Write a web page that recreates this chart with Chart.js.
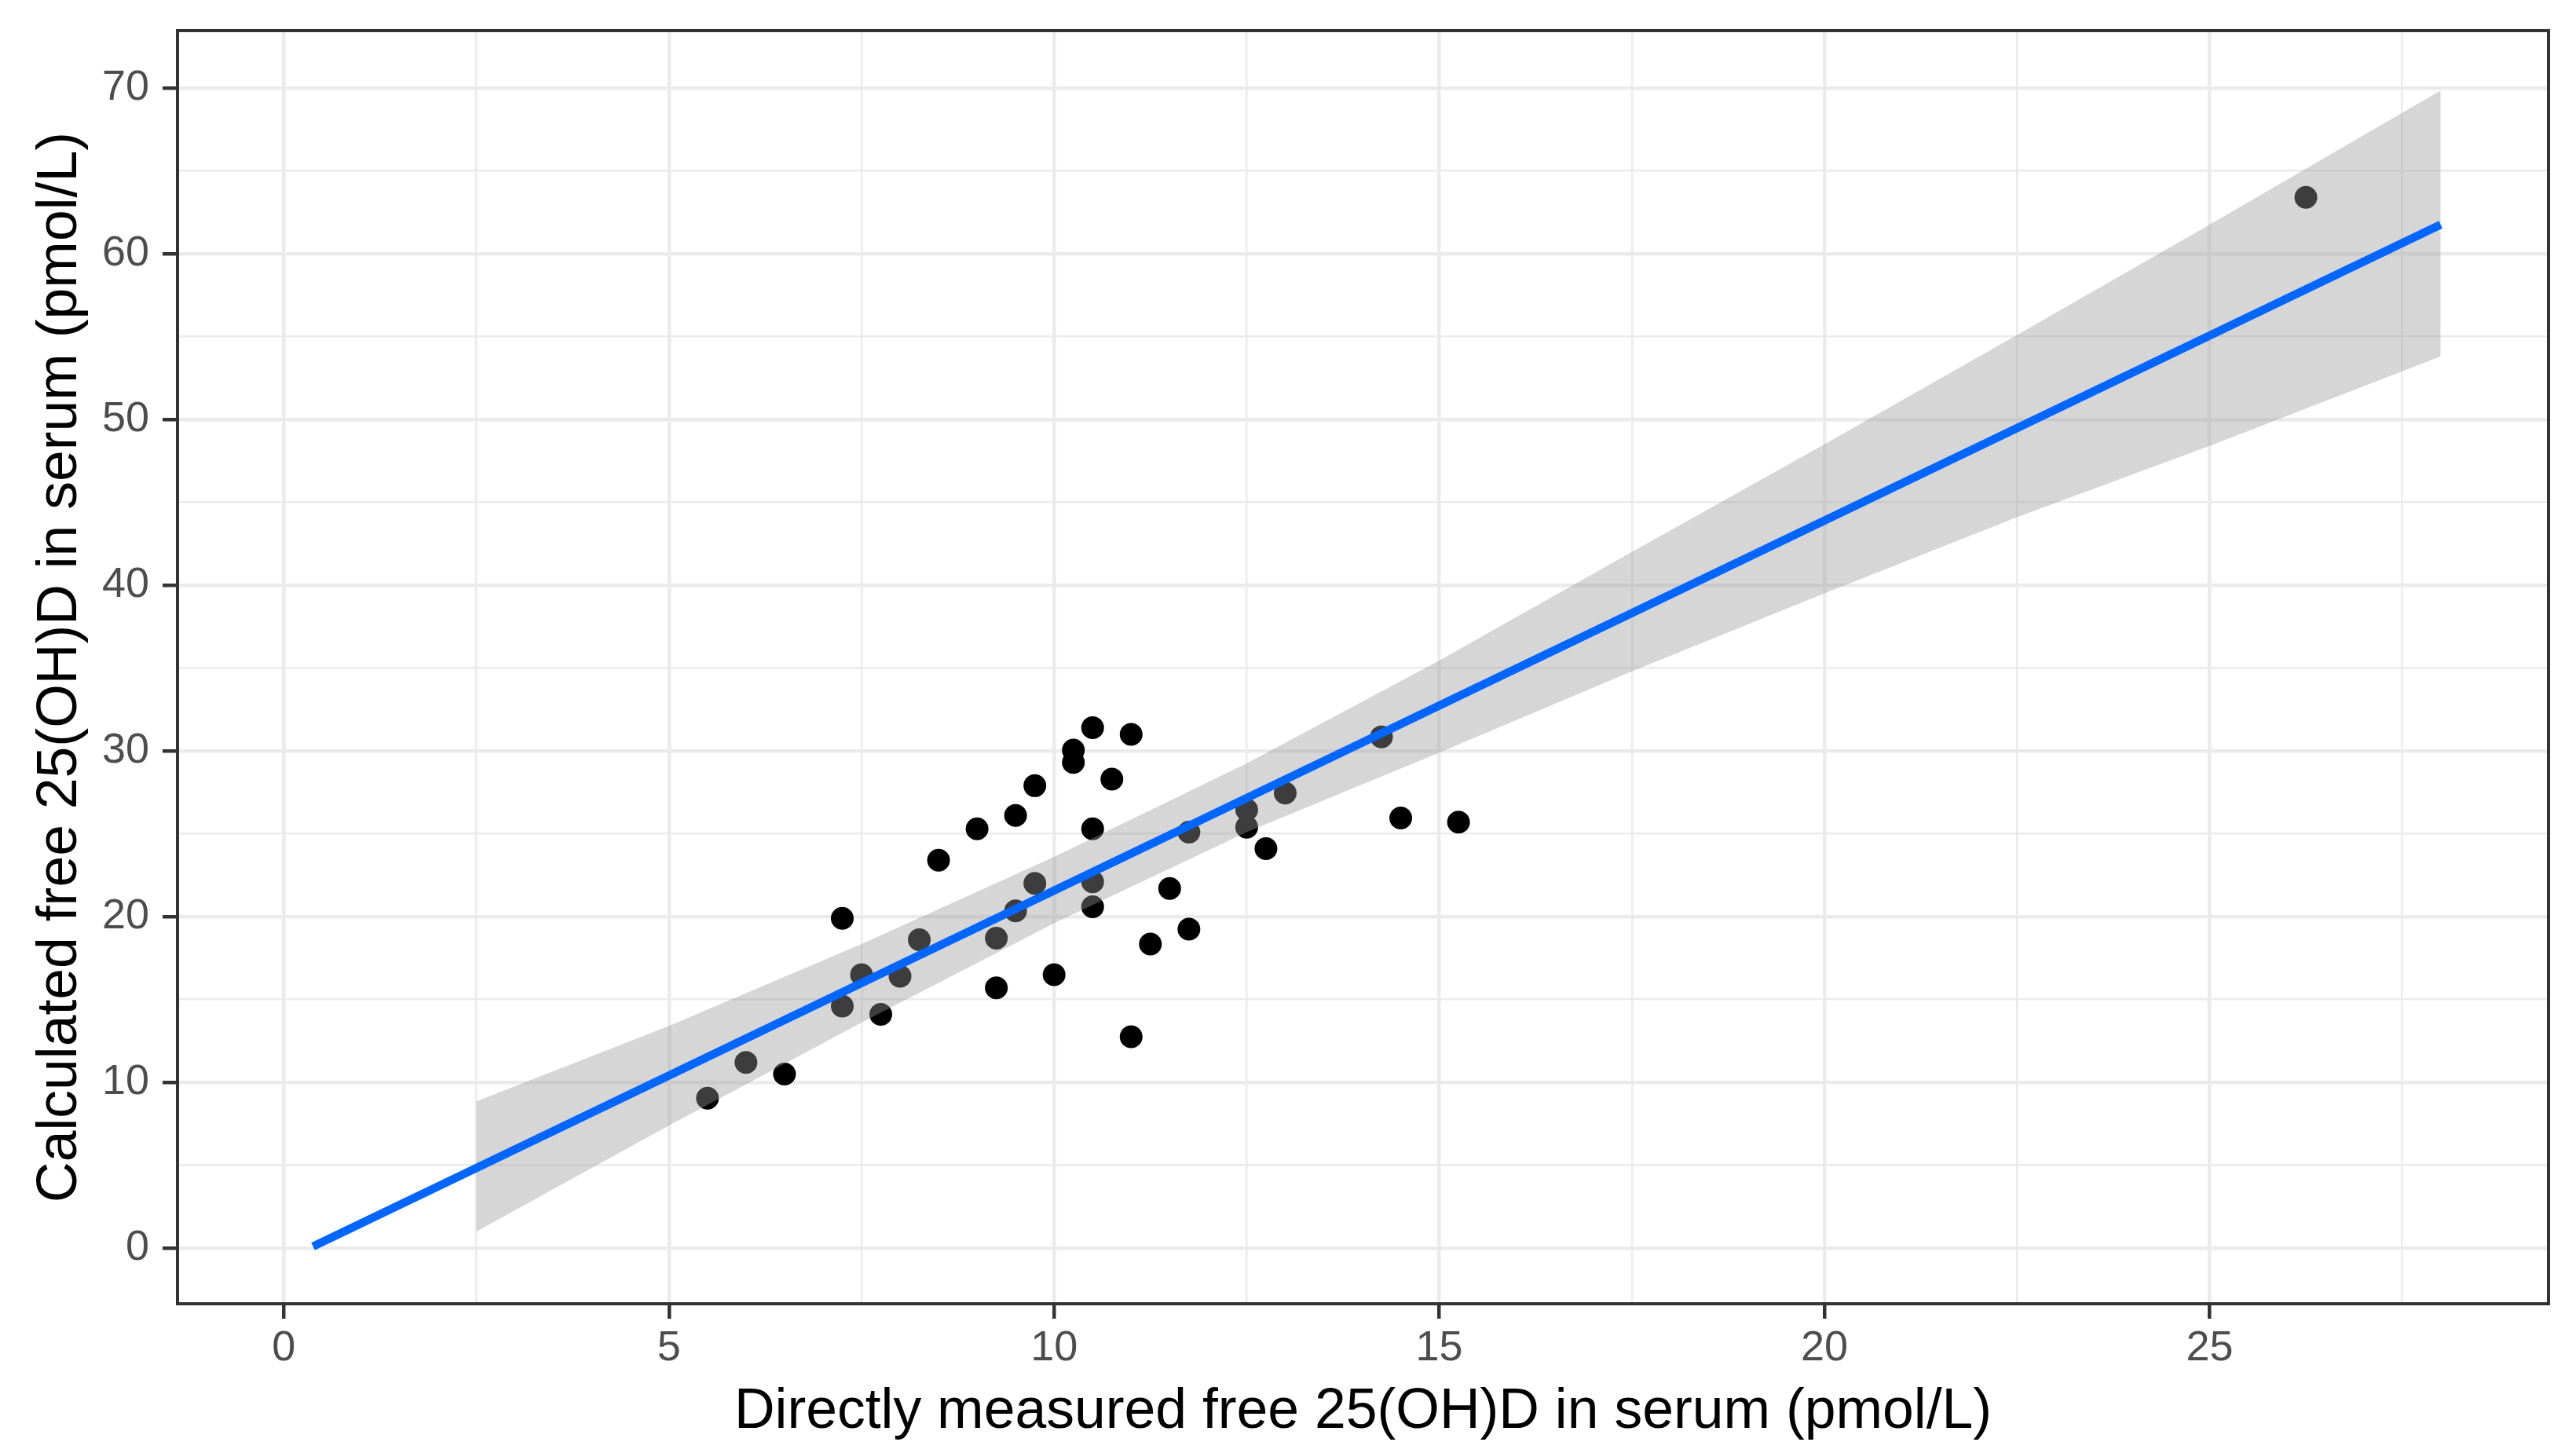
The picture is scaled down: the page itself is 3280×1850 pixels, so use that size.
<!DOCTYPE html>
<html>
<head>
<meta charset="utf-8">
<script src="https://cdn.jsdelivr.net/npm/chart.js@4.4.1/dist/chart.umd.min.js"></script>
<style>
  html, body { margin: 0; padding: 0; background: #ffffff; }
  #wrap { width: 3280px; height: 1850px; }
</style>
</head>
<body>
<div id="wrap"><canvas id="myChart"></canvas></div>
<script>
// Datos
const medidoX = [5.5, 6, 6.5, 7.25, 7.25, 7.5, 7.75, 8, 8.25, 8.5, 9, 9.25, 9.25, 9.5, 9.5, 9.75, 9.75, 10, 10.25, 10.25,
  10.5, 10.5, 10.5, 10.5, 10.75, 11, 11, 11.25, 11.5, 11.75, 11.75, 12.5, 12.5, 12.75, 13, 14.25, 14.5, 15.25, 26.25]
const calculadoY = [9.05, 11.2, 10.5, 19.9, 14.6, 16.5, 14.1, 16.4, 18.6, 23.4, 25.3, 18.7, 15.7, 26.1, 20.35, 27.9, 22.0, 16.5, 30.05, 29.3,
  31.4, 25.3, 22.1, 20.6, 28.3, 31.0, 12.75, 18.35, 21.7, 25.1, 19.25, 26.45, 25.4, 24.1, 27.45, 30.85, 25.95, 25.7, 63.4]

// Banda de confianza (gris)
const bandaX = [2.5, 5, 7.5, 10, 12.5, 15, 17.5, 20, 22.5, 25, 28]
const bandaSup = [8.85, 13.4, 18.35, 23.6, 29.25, 35.45, 42.0, 48.5, 55.1, 61.75, 69.85]
const bandaInf = [1.0, 7.4, 13.6, 19.6, 25.1, 29.9, 34.8, 39.5, 44.1, 48.4, 53.8]

// Recta ajustada (azul)
const rectaX = [0.38, 28]
const rectaY = [0.1, 61.75]

const ejeX = { min: -1.38, max: 29.4, paso: 2.5, etiquetaCada: 5 }
const ejeY = { min: -3.36, max: 73.46, paso: 5, etiquetaCada: 10 }

const tituloX = 'Directly measured free 25(OH)D in serum (pmol/L)'
const tituloY = 'Calculated free 25(OH)D in serum (pmol/L)'

const aPuntos = (xs, ys) => xs.map((x, i) => ({ x: x, y: ys[i] }))
const esMayor = (v, cada) => Math.abs(v / cada - Math.round(v / cada)) < 1e-6

const marco = {
  id: 'marco',
  afterDraw(chart) {
    const { ctx, chartArea: a } = chart
    ctx.save()
    ctx.strokeStyle = '#333333'
    ctx.lineWidth = 4
    ctx.strokeRect(a.left, a.top, a.right - a.left, a.bottom - a.top)
    ctx.restore()
  }
}

function ejeOpciones(cfg, titulo, tamTitulo, tituloPad, tickPad, fit) {
  return {
    type: 'linear',
    min: cfg.min,
    max: cfg.max,
    border: { display: false },
    grid: {
      color: '#ebebeb',
      lineWidth: c => esMayor(c.tick.value, cfg.paso * 2) ? 4.5 : 2.5,
      drawTicks: true,
      tickLength: 19,
      tickWidth: 4.5,
      tickColor: c => esMayor(c.tick.value, cfg.etiquetaCada) ? '#333333' : 'rgba(0,0,0,0)'
    },
    ticks: {
      stepSize: cfg.paso,
      includeBounds: false,
      autoSkip: false,
      maxRotation: 0,
      padding: tickPad,
      color: '#4d4d4d',
      font: { family: 'Liberation Sans', size: 54 },
      callback: v => esMayor(v, cfg.etiquetaCada) ? String(v) : ''
    },
    title: {
      display: true,
      text: titulo,
      color: '#000000',
      font: { family: 'Liberation Sans', size: tamTitulo },
      padding: tituloPad
    },
    afterFit: s => {
      fit(s)
      // sin margen extra por las etiquetas
      s.paddingTop = 0
      s.paddingBottom = 0
      s.paddingLeft = 0
      s.paddingRight = 0
    }
  }
}

new Chart(document.getElementById('myChart'), {
  type: 'scatter',
  data: {
    datasets: [
      {
        label: 'puntos',
        data: aPuntos(medidoX, calculadoY),
        backgroundColor: '#000000',
        borderWidth: 0,
        pointRadius: 14.5,
        order: 3
      },
      {
        type: 'line',
        label: 'sup',
        data: aPuntos(bandaX, bandaSup),
        borderWidth: 0,
        pointRadius: 0,
        fill: '+1',
        backgroundColor: 'rgba(153,153,153,0.4)',
        order: 2
      },
      {
        type: 'line',
        label: 'inf',
        data: aPuntos(bandaX, bandaInf),
        borderWidth: 0,
        pointRadius: 0,
        fill: false,
        order: 2
      },
      {
        type: 'line',
        label: 'recta',
        data: aPuntos(rectaX, rectaY),
        borderColor: '#0066ff',
        borderWidth: 10.5,
        pointRadius: 0,
        fill: false,
        order: 1
      }
    ]
  },
  options: {
    responsive: true,
    maintainAspectRatio: false,
    animation: false,
    events: [],
    layout: { padding: { top: 39, right: 35, bottom: 0, left: 0 } },
    plugins: {
      legend: { display: false },
      tooltip: { enabled: false }
    },
    scales: {
      x: ejeOpciones(ejeX, tituloX, 71.5, { top: 0, bottom: 9 }, 6, s => { s.height = 190 }),
      y: ejeOpciones(ejeY, tituloY, 71.5, { top: 34, bottom: 0 }, 17, s => { s.width = 226 })
    }
  },
  plugins: [marco]
})
</script>
</body>
</html>
